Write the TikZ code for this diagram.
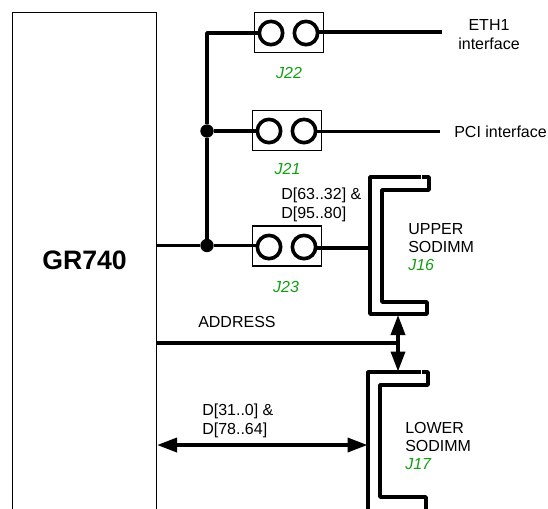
\documentclass[tikz,border=0pt]{standalone}
\usepackage{fontspec}
\setmainfont{Liberation Sans}
\usetikzlibrary{arrows.meta}
\definecolor{jgreen}{RGB}{18,160,18}
\tikzset{
    wire/.style={line width=2.7pt},
    bus/.style={wire, {Triangle[length=15pt,width=10.5pt]}-{Triangle[length=15pt,width=10.5pt]}},
    slot/.style={line width=2.7pt, line join=round},
    jbox/.style={draw, line width=.8pt, minimum width=51.5pt, minimum height=30pt},
    pin/.style={draw, circle, line width=2.7pt, minimum size=17.5pt, inner sep=0},
    joint/.style={fill, circle, minimum size=10pt, inner sep=0},
    txt/.style={inner sep=0, align=left, anchor=west, font=\fontsize{12}{13.8}\selectfont},
    jname/.style={inner sep=0, text=jgreen, font=\fontsize{12}{13.8}\selectfont\itshape}
}
\begin{document}
\begin{tikzpicture}[x=.75pt, y=-.75pt]
    \useasboundingbox (0,0) rectangle (548,508);
    \clip (0,0) rectangle (548,508);
    \node (gr) [draw, line width=.8pt, minimum width=108pt, minimum height=420pt, anchor=north west, inner sep=0] at (12,12) {};
    \node (grname) at (84.5,260) [inner sep=0, font=\fontsize{20}{24}\selectfont\bfseries] {GR740};

    \node (j22) [jbox] at (289,32.5) {};
    \node (j22a) [pin] at (271,33) {};
    \node (j22b) [pin] at (306,33) {};
    \node (j21) [jbox] at (287,130.5) {};
    \node (j21a) [pin] at (269,131) {};
    \node (j21b) [pin] at (304,131) {};
    \node (j23) [jbox] at (287,246) {};
    \node (j23a) [pin] at (269,247) {};
    \node (j23b) [pin] at (304,247) {};
    \node (n22) [jname] at (289,73) {J22};
    \node (n21) [jname] at (287.5,169) {J21};
    \node (n23) [jname] at (286,287) {J23};

    \coordinate (corner) at (207,33);
    \node (dot21) [joint] at (207,131) {};
    \node (dot23) [joint] at (207,245.5) {};
    \coordinate (ethend) at (442,32);
    \coordinate (pciend) at (440,131.5);
    \coordinate (upperin) at (369,248);
    \coordinate (addrend) at (398,343);
    \coordinate (upperpin) at (398,315);
    \coordinate (lowerpin) at (398,371.5);
    \coordinate (dataend) at (367.5,445);

    % upper and lower slot outlines
    \draw [slot] (370,177) -- (429,177) -- (429,190) -- (382,190) -- (382,302) -- (427,302) -- (427,314) -- (370,314) -- cycle;
    \draw [slot] (368,372) -- (428,372) -- (428,385) -- (380,385) -- (380,497) -- (426,497) -- (426,530) -- (368,530) -- cycle;
    \draw [white, line width=.4pt] (421.5,174) -- (421.5,179.5);
    \draw [white, line width=.4pt] (421.5,369) -- (421.5,374.5);

    \draw [wire, line join=round] (j22a -| j22a.west) -- (corner) -- (dot21) -- (dot23);
    \draw [wire] (dot21) -- (dot21 -| j21a.west);
    \draw [wire] (gr.east |- dot23) -- (dot23) -- (dot23 -| j23a.west);
    \draw [wire] (ethend -| j22b.east) -- (ethend);
    \draw [wire] (pciend -| j21b.east) -- (pciend);
    \draw [wire] (upperin -| j23b.east) -- (upperin);
    \draw [wire] (gr.east |- addrend) -- (addrend);
    \draw [bus] (upperpin) -- (lowerpin);
    \draw [bus] (gr.east |- dataend) -- (dataend);

    \node (eth) at (489,34.5) [inner sep=0, align=center, font=\fontsize{12}{13.8}\selectfont] {ETH1\\interface};
    \node (pci) [txt] at (454,132) {PCI interface};
    \node (d6332) [txt] at (281,205) {D[63..32] \&\\D[95..80]};
    \node (upper) [txt] at (408,247) {UPPER\\SODIMM\\{\color{jgreen}\itshape J16}};
    \node (addr) [txt] at (198,322) {ADDRESS};
    \node (d310) [txt] at (202,421) {D[31..0] \&\\D[78..64]};
    \node (lower) [txt] at (405,446) {LOWER\\SODIMM\\{\color{jgreen}\itshape J17}};
\end{tikzpicture}
\end{document}
